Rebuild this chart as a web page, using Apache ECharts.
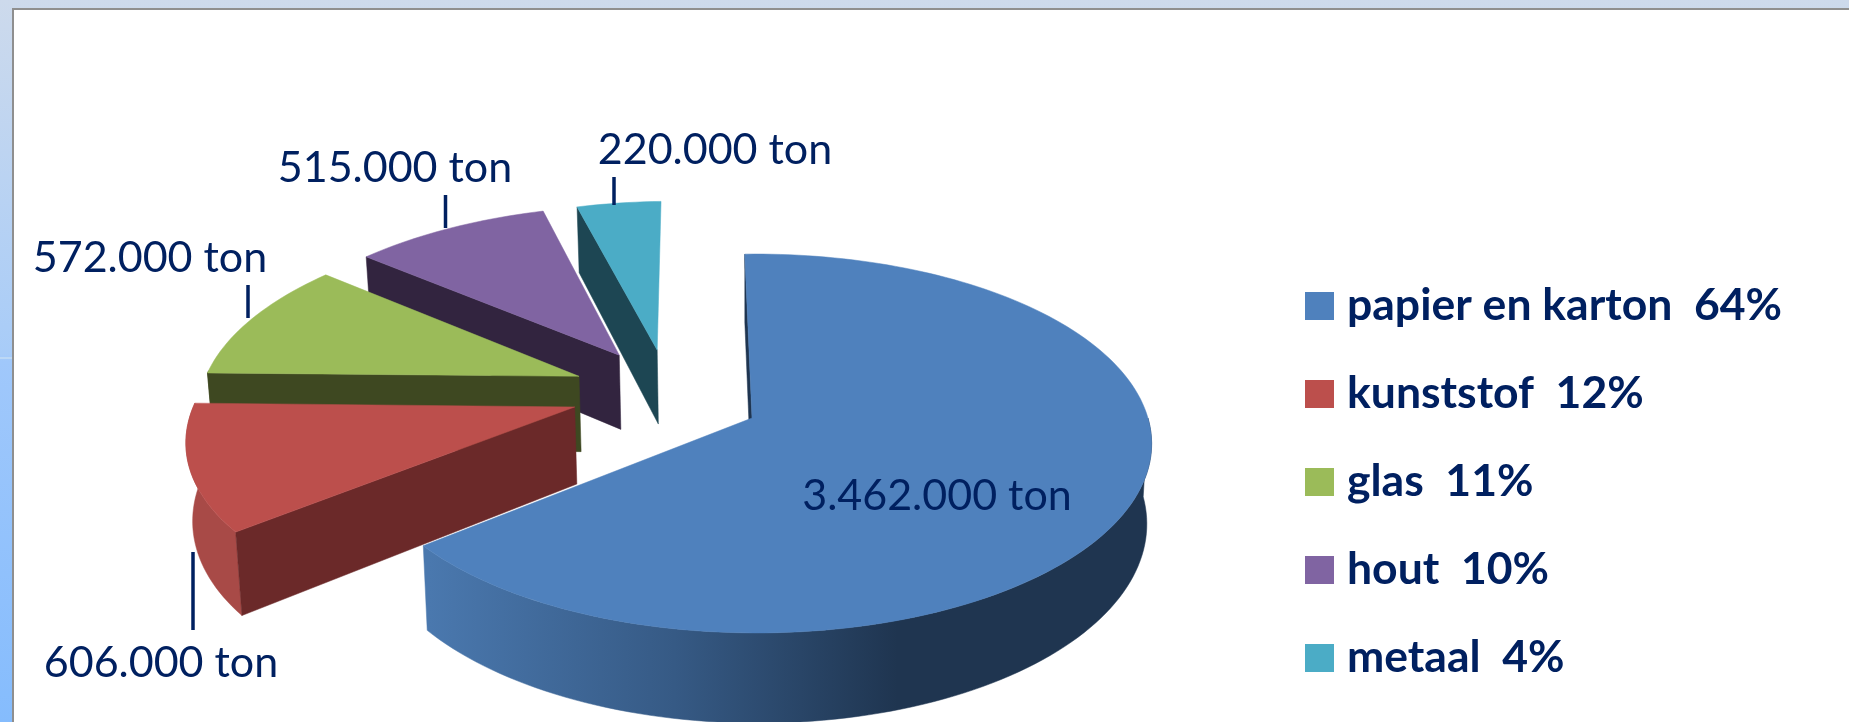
<!DOCTYPE html>
<html><head><meta charset="utf-8">
<style>html,body{margin:0;padding:0;background:#fff}#c{width:1849px;height:722px}</style>
<script src="https://cdn.jsdelivr.net/npm/echarts@6/dist/echarts.min.js"></script>
</head><body><div id="c"></div>
<script>
// ---- data ----
const categories = ['papier en karton', 'kunststof', 'glas', 'hout', 'metaal'];
const tons = [3462000, 606000, 572000, 515000, 220000];
const percents = [64, 12, 11, 10, 4];

// ---- look ----
const topColors = ['#4f81bd', '#bc4f4c', '#9bbb59', '#8064a2', '#4bacc6'];
const wallColors = ['#1f3550', '#6b2929', '#3e4821', '#32243f', '#1d4653'];
const rimColors = ['#1f3550', '#a84a47', '#3e4821', '#32243f', '#1d4653'];
// explosion of each slice within the pie's plane (unit = pie radius)
const explodeU = [0, -0.458, -0.457, -0.356, -0.255];
const explodeV = [0, -0.06, -0.232, -0.355, -0.385];
const labelPos = [[937, 496], [161, 663], [150, 258], [395, 168], [715, 150]];
const leaders = [null, [193, 552, 630], [248, 285, 318], [445.5, 195, 228], [614, 177, 205]];
const startAngle = -1.2;
const CX = 752, CY = 418, R = 392, A = 186, K = 0.1346, M = 0.01, DEPTH = 78, SHRINK = 0.988;
const RIM_FROM = 90, RIM_TO = 272;
const LABEL_FONT = '43px Lato, "Open Sans", sans-serif';
const INK = '#002060';

const total = tons.reduce((a, b) => a + b, 0);
const fmt = v => String(v).replace(/\B(?=(\d{3})+$)/g, '.') + ' ton';
const legendNames = categories.map((c, i) => c + '  ' + percents[i] + '%');

function project(u, v, bottom) {
  const s = 1 / (1 - K * v - M * u);
  return bottom
    ? [CX + R * u * s * SHRINK, CY + (A * v + DEPTH) * s]
    : [CX + R * u * s, CY + A * v * s];
}
function arcPts(i, a0, a1, bottom) {
  const pts = [];
  const n = Math.max(2, Math.ceil(Math.abs(a1 - a0) / 1.5));
  for (let k = 0; k <= n; k++) {
    const t = (a0 + (a1 - a0) * k / n) * Math.PI / 180;
    pts.push(project(explodeU[i] + Math.sin(t), explodeV[i] - Math.cos(t), bottom));
  }
  return pts;
}
function sliceAngles(i) {
  let before = 0;
  for (let k = 0; k < i; k++) before += tons[k];
  const a0 = startAngle + before / total * 360;
  return [a0, a0 + tons[i] / total * 360];
}
const wallFill = i => i === 0
  ? new echarts.graphic.LinearGradient(429, 0, 1150, 0, [
      { offset: 0, color: '#4a78ae' },
      { offset: 0.34, color: '#365a85' },
      { offset: 0.65, color: '#1f3550' },
      { offset: 1, color: '#1f3550' }
    ], true)
  : rimColors[i];

function renderSlice(i) {
  return function () {
    const [a0, a1] = sliceAngles(i);
    const apexT = project(explodeU[i], explodeV[i], false);
    const apexB = project(explodeU[i], explodeV[i], true);
    const top = arcPts(i, a0, a1, false);
    const bot = arcPts(i, a0, a1, true);
    const poly = (points, fill) => ({
      type: 'polygon', shape: { points }, silent: true,
      style: { fill, stroke: fill, lineWidth: 0.5 }
    });
    const children = [];
    // outer rim wall, only the part that faces the viewer
    const r0 = Math.max(a0, RIM_FROM), r1 = Math.min(a1, RIM_TO);
    if (r1 > r0) {
      const rimT = arcPts(i, r0, r1, false), rimB = arcPts(i, r0, r1, true);
      children.push(poly(rimT.concat(rimB.reverse()), wallFill(i)));
    }
    // cut wall on the clockwise-start edge
    children.push(poly([apexT, top[0], bot[0], apexB], wallColors[i]));
    // top face
    children.push(poly([apexT].concat(top), topColors[i]));
    // value label and leader
    if (leaders[i]) {
      const l = leaders[i];
      children.push({
        type: 'line', silent: true,
        shape: { x1: l[0], y1: l[1], x2: l[0], y2: l[2] },
        style: { stroke: INK, lineWidth: 3.5 }
      });
    }
    children.push({
      type: 'text', silent: true,
      style: {
        text: fmt(tons[i]), x: labelPos[i][0], y: labelPos[i][1],
        align: 'center', verticalAlign: 'middle', fill: INK, font: LABEL_FONT
      }
    });
    return { type: 'group', children };
  };
}

// painted back to front
const paintOrder = [4, 3, 2, 1, 0];
const chart = echarts.init(document.getElementById('c'), null, { renderer: 'canvas', width: 1849, height: 722 });
chart.setOption({
  animation: false,
  backgroundColor: '#ffffff',
  graphic: [
    { type: 'rect', z: -10, silent: true, shape: { x: 0, y: 0, width: 1849, height: 722 },
      style: { fill: new echarts.graphic.LinearGradient(0, 0, 0, 1, [
        { offset: 0, color: '#cddaec' },
        { offset: 0.49, color: '#a8ccf8' },
        { offset: 0.5, color: '#a0c8fb' },
        { offset: 1, color: '#85bcfd' }]) } },
    { type: 'rect', z: -9, silent: true, shape: { x: 0, y: 357, width: 12, height: 2 },
      style: { fill: '#bcd8f6' } },
    { type: 'rect', z: -8, silent: true, shape: { x: 13, y: 9, width: 1850, height: 720 },
      style: { fill: '#ffffff', stroke: '#8f8f8f', lineWidth: 2 } }
  ],
  legend: {
    orient: 'vertical', left: 1300, top: 278,
    data: legendNames,
    icon: 'rect', itemWidth: 29, itemHeight: 28, itemGap: 42,
    selectedMode: false,
    textStyle: { color: INK, fontFamily: 'Lato, "Open Sans", sans-serif', fontWeight: 'bold', fontSize: 44.5, lineHeight: 46, padding: [0, 0, 0, 8] }
  },
  series: paintOrder.map(i => ({
    type: 'custom',
    name: legendNames[i],
    coordinateSystem: 'none',
    itemStyle: { color: topColors[i] },
    data: [tons[i]],
    renderItem: renderSlice(i),
    silent: true
  }))
});
</script></body></html>
